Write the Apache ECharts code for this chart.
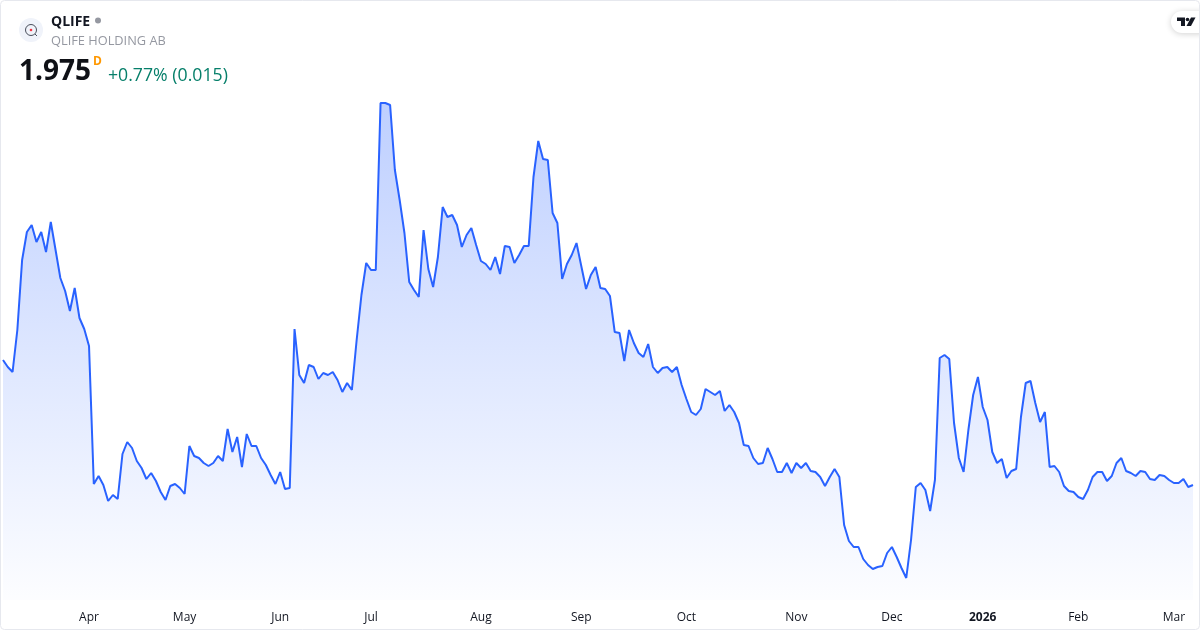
<!DOCTYPE html>
<html>
<head>
<meta charset="utf-8">
<title>QLIFE</title>
<script src="https://cdn.jsdelivr.net/npm/echarts@6/dist/echarts.min.js"></script>
<style>
  html, body { margin: 0; padding: 0; background: #fff; }
  #chart-container { width: 1200px; height: 630px; }
</style>
</head>
<body>
<div id="chart-container"></div>
<script>
// closing prices, one per trading day
const prices = [
  2.600, 2.565, 2.540, 2.750, 3.100, 3.240, 3.275, 3.190, 3.240, 3.140,
  3.290, 3.150, 3.010, 2.945, 2.845, 2.960, 2.810, 2.755, 2.670, 1.980,
  2.020, 1.975, 1.895, 1.925, 1.905, 2.130, 2.190, 2.160, 2.095, 2.060,
  2.005, 2.035, 1.995, 1.940, 1.900, 1.970, 1.980, 1.960, 1.930, 2.170,
  2.120, 2.110, 2.085, 2.070, 2.085, 2.120, 2.095, 2.255, 2.140, 2.215,
  2.065, 2.230, 2.170, 2.170, 2.110, 2.075, 2.025, 1.980, 2.040, 1.955,
  1.960, 2.755, 2.525, 2.485, 2.575, 2.565, 2.505, 2.535, 2.525, 2.540,
  2.500, 2.440, 2.485, 2.450, 2.700, 2.925, 3.085, 3.050, 3.050, 3.885,
  3.885, 3.875, 3.550, 3.400, 3.235, 2.990, 2.950, 2.915, 3.250, 3.055,
  2.965, 3.115, 3.365, 3.315, 3.325, 3.275, 3.165, 3.225, 3.260, 3.175,
  3.095, 3.080, 3.050, 3.115, 3.030, 3.170, 3.165, 3.085, 3.125, 3.170,
  3.170, 3.515, 3.695, 3.605, 3.600, 3.335, 3.285, 3.005, 3.080, 3.125,
  3.185, 3.070, 2.955, 3.025, 3.065, 2.960, 2.955, 2.920, 2.740, 2.735,
  2.595, 2.750, 2.685, 2.635, 2.615, 2.680, 2.565, 2.535, 2.560, 2.565,
  2.540, 2.565, 2.475, 2.405, 2.340, 2.325, 2.355, 2.455, 2.440, 2.425,
  2.445, 2.345, 2.375, 2.340, 2.285, 2.175, 2.170, 2.110, 2.080, 2.085,
  2.160, 2.105, 2.040, 2.040, 2.085, 2.035, 2.085, 2.060, 2.085, 2.045,
  2.040, 2.015, 1.970, 2.015, 2.055, 2.015, 1.775, 1.695, 1.665, 1.665,
  1.605, 1.575, 1.555, 1.565, 1.570, 1.635, 1.665, 1.615, 1.560, 1.510,
  1.700, 1.965, 1.985, 1.950, 1.845, 2.000, 2.610, 2.625, 2.605, 2.285,
  2.110, 2.040, 2.250, 2.425, 2.515, 2.365, 2.300, 2.140, 2.085, 2.105,
  2.010, 2.045, 2.055, 2.315, 2.485, 2.495, 2.385, 2.290, 2.340, 2.065,
  2.070, 2.040, 1.970, 1.945, 1.940, 1.915, 1.905, 1.950, 2.015, 2.040,
  2.040, 1.995, 2.020, 2.085, 2.110, 2.045, 2.035, 2.020, 2.045, 2.040,
  2.005, 2.000, 2.025, 2.020, 2.000, 1.985, 1.985, 2.005, 1.965, 1.975
];
const tickLabels = ['Apr', 'May', 'Jun', 'Jul', 'Aug', 'Sep', 'Oct', 'Nov', 'Dec', '2026', 'Feb', 'Mar'];
const tickDays = [18, 38, 58, 77, 100, 121, 143, 166, 186, 205, 225, 245];

const font = '"Open Sans", "Noto Sans", sans-serif';
const chartContainer = document.getElementById('chart-container');
const chart = echarts.init(chartContainer);

function tickText(index) {
  const pos = tickDays.indexOf(Number(index));
  if (pos < 0) return '';
  const label = tickLabels[pos];
  return label === '2026' ? '{year|' + label + '}' : label;
}

chart.setOption({
  animation: false,
  backgroundColor: '#fff',
  grid: { left: 3, right: 7, top: 0, height: 600 },
  xAxis: {
    type: 'category',
    boundaryGap: false,
    data: prices.map((p, i) => i),
    axisLine: { show: false },
    axisTick: { show: false },
    axisLabel: {
      interval: (index) => tickDays.includes(index),
      formatter: (value) => tickText(value),
      hideOverlap: false,
      color: '#131722',
      fontFamily: font,
      fontSize: 12,
      margin: 12,
      rich: { year: { fontFamily: font, fontSize: 12, fontWeight: 'bold', color: '#131722' } }
    }
  },
  yAxis: { type: 'value', min: 1.4, max: 4.4, show: false },
  series: [{
    type: 'line',
    data: prices,
    showSymbol: false,
    lineStyle: { color: '#2962ff', width: 2 },
    itemStyle: { color: '#2962ff' },
    areaStyle: {
      opacity: 1,
      color: new echarts.graphic.LinearGradient(0, 0, 0, 1, [
        { offset: 0, color: 'rgba(41,98,255,0.3)' },
        { offset: 1, color: 'rgba(41,98,255,0.01)' }
      ])
    }
  }],
  graphic: [
    // card border
    { type: 'rect', shape: { x: 0.5, y: 0.5, width: 1199, height: 629, r: 4 }, style: { fill: 'none', stroke: '#e6e8ee', lineWidth: 1 }, z: 10 },
    // logo
    { type: 'circle', shape: { cx: 31, cy: 30, r: 12 }, style: { fill: '#f0f3fa' } },
    { type: 'circle', shape: { cx: 31, cy: 30, r: 5.5 }, style: { fill: 'none', stroke: '#4a4f5c', lineWidth: 1 } },
    { type: 'circle', shape: { cx: 31, cy: 30, r: 1.3 }, style: { fill: '#f23645' } },
    { type: 'line', shape: { x1: 35, y1: 34, x2: 37, y2: 36 }, style: { stroke: '#4a4f5c', lineWidth: 1 } },
    // header text
    { type: 'text', x: 51, y: 22, style: { text: 'QLIFE', fill: '#131722', font: 'bold 14px ' + font, textVerticalAlign: 'middle' } },
    { type: 'circle', shape: { cx: 98, cy: 20.5, r: 3 }, style: { fill: '#9598a1' } },
    { type: 'text', x: 51, y: 41, style: { text: 'QLIFE HOLDING AB', fill: '#9598a1', font: '12.8px ' + font, textVerticalAlign: 'middle' } },
    { type: 'text', x: 19, y: 72.5, style: { text: '1.975', fill: '#0f1116', font: 'bold 28px ' + font, textVerticalAlign: 'middle' } },
    { type: 'text', x: 93, y: 62, style: { text: 'D', fill: '#ff9800', font: 'bold 12px ' + font, textVerticalAlign: 'middle' } },
    { type: 'text', x: 108, y: 76, style: { text: '+0.77% (0.015)', fill: '#067f6a', font: '17.7px ' + font, textVerticalAlign: 'middle' } },
    // TradingView badge
    {
      type: 'rect',
      shape: { x: 1171, y: 11, width: 40, height: 22, r: 11 },
      style: { fill: '#fff', shadowBlur: 6, shadowColor: 'rgba(0,0,0,0.18)', shadowOffsetY: 1 }
    },
    { type: 'polygon', shape: { points: [[1177, 17.5], [1185, 17.5], [1185, 26], [1181, 26], [1181, 21], [1177, 21]] }, style: { fill: '#131722' } },
    { type: 'circle', shape: { cx: 1187.5, cy: 19.5, r: 1.8 }, style: { fill: '#131722' } },
    { type: 'polygon', shape: { points: [[1191, 17.5], [1195.5, 17.5], [1191, 26], [1186.5, 26]] }, style: { fill: '#131722' } }
  ]
});
</script>
</body>
</html>
